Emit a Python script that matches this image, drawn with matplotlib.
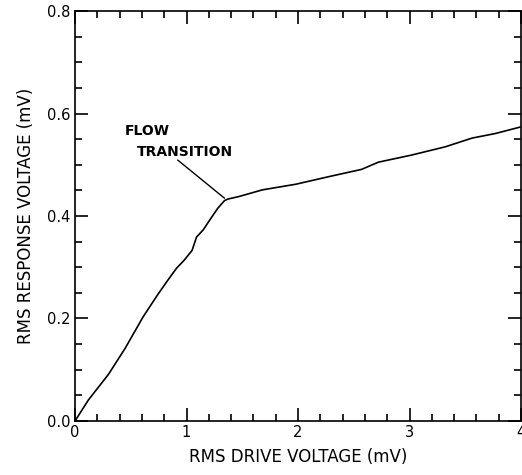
import numpy as np
import matplotlib
matplotlib.use('Agg')
import matplotlib.pyplot as plt
from matplotlib.ticker import MultipleLocator, FormatStrFormatter

# Values
drive_mv = [0.0, 0.12, 0.30, 0.45, 0.61, 0.74, 0.83, 0.91, 0.98, 1.05, 1.07,
            1.09, 1.15, 1.22, 1.28, 1.34, 1.37, 1.47, 1.68, 1.98, 2.28, 2.57,
            2.72, 3.02, 3.32, 3.56, 3.77, 4.0]
response_mv = [0.0, 0.041, 0.091, 0.142, 0.203, 0.246, 0.274, 0.298, 0.314,
               0.333, 0.346, 0.359, 0.373, 0.396, 0.415, 0.430, 0.433, 0.438,
               0.451, 0.462, 0.477, 0.491, 0.505, 0.519, 0.535, 0.552, 0.561,
               0.574]

x_label = 'RMS DRIVE VOLTAGE (mV)'
y_label = 'RMS RESPONSE VOLTAGE (mV)'

plt.rcParams['font.family'] = ['DejaVu Sans']

fig = plt.figure(figsize=(5.22, 4.75), dpi=100)
ax = fig.add_axes([0.1437, 0.1137, 0.8545, 0.8631])

ax.plot(drive_mv, response_mv, color='black', lw=1.2)

ax.set_xlim(0, 4)
ax.set_ylim(0, 0.8)
ax.xaxis.set_major_locator(MultipleLocator(1))
ax.xaxis.set_minor_locator(MultipleLocator(0.2))
ax.yaxis.set_major_locator(MultipleLocator(0.2))
ax.yaxis.set_minor_locator(MultipleLocator(0.05))
ax.yaxis.set_major_formatter(FormatStrFormatter('%.1f'))

ax.tick_params(which='both', direction='in', top=True, right=True,
               width=1.2, labelsize=10.5)
ax.tick_params(which='major', length=9.5, pad=3)
ax.tick_params(which='minor', length=5)
for s in ax.spines.values():
    s.set_linewidth(1.2)

ax.set_xlabel(x_label, fontsize=12, labelpad=6)
ax.set_ylabel(y_label, fontsize=12, labelpad=9)

# annotation
ax.text(0.446, 0.566, 'FLOW', fontsize=10, fontweight='bold', va='center', ha='left')
ax.text(0.551, 0.525, 'TRANSITION', fontsize=10, fontweight='bold', va='center', ha='left')
ax.plot([0.922, 1.339], [0.509, 0.435], color='black', lw=1.0)

fig.savefig('out.png', dpi=100)
